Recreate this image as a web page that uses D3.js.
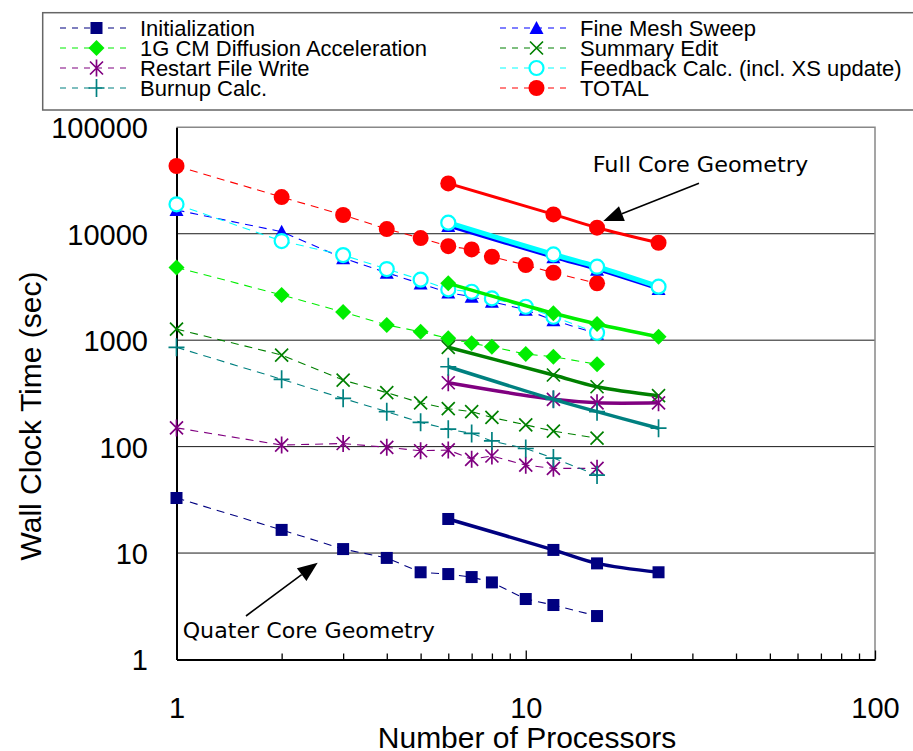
<!DOCTYPE html>
<html>
<head>
<meta charset="utf-8">
<script src="https://cdn.jsdelivr.net/npm/d3@7"></script>
<style>
  body { margin: 0; background: #fff; }
  svg { display: block; font-family: "Liberation Sans", Arial, sans-serif; }
</style>
</head>
<body>
<div id="chart"></div>
<script>
// processor counts
const procsQuarter = [1, 2, 3, 4, 5, 6, 7, 8, 10, 12, 16];
const procsFull = [6, 12, 16, 24];

// wall clock time (sec), quarter core runs (dashed) and full core runs (solid)
const initQuarter = [32.9, 16.5, 10.9, 9.0, 6.6, 6.35, 5.95, 5.3, 3.7, 3.25, 2.56];
const initFull = [20.9, 10.7, 8.0, 6.6];
const sweepQuarter = [16700, 10450, 5900, 4300, 3400, 2800, 2560, 2300, 1930, 1540, 1150];
const sweepFull = [11800, 6000, 4600, 3020];
const cmfdQuarter = [4830, 2660, 1840, 1390, 1200, 1040, 934, 868, 741, 699, 593];
const cmfdFull = [3420, 1790, 1420, 1077];
const editQuarter = [1270, 725, 422, 321, 258, 227, 213, 188, 160, 140, 120];
const editFull = [857, 471, 365, 301];
const restartQuarter = [150, 103.5, 107, 98.5, 91.5, 93, 76, 81.6, 67, 62.5, 62.5];
const restartFull = [398, 278, 258, 258];
const feedbackQuarter = [18900, 8540, 6300, 4660, 3700, 3000, 2850, 2470, 2060, 1660, 1175];
const feedbackFull = [12700, 6400, 4900, 3180];
const burnupQuarter = [857, 429, 284, 213, 169, 146, 133, 113, 96, 78, 54];
const burnupFull = [563, 278, 213, 149];
const totalQuarter = [43300, 22100, 15000, 11060, 9100, 7640, 7130, 6080, 5080, 4300, 3420];
const totalFull = [29700, 15200, 11400, 8230];

const xTickLabels = [1, 10, 100];
const yTickLabels = [1, 10, 100, 1000, 10000, 100000];

// legend / drawing order
const series = [
  {name: 'Initialization', color: '#000080', marker: 'square', quarter: initQuarter, full: initFull, width: 3.5},
  {name: 'Fine Mesh Sweep', color: '#0000ff', marker: 'triangle', quarter: sweepQuarter, full: sweepFull, width: 3},
  {name: '1G CM Diffusion Acceleration', color: '#00ee00', marker: 'diamond', quarter: cmfdQuarter, full: cmfdFull, width: 3.5},
  {name: 'Summary Edit', color: '#008000', marker: 'xmark', quarter: editQuarter, full: editFull, width: 3.5},
  {name: 'Restart File Write', color: '#800080', marker: 'star', quarter: restartQuarter, full: restartFull, width: 3.5},
  {name: 'Feedback Calc. (incl. XS update)', color: '#00ffff', marker: 'ocircle', quarter: feedbackQuarter, full: feedbackFull, width: 5},
  {name: 'Burnup Calc.', color: '#008080', marker: 'plus', quarter: burnupQuarter, full: burnupFull, width: 3.5},
  {name: 'TOTAL', color: '#ff0000', marker: 'circle', quarter: totalQuarter, full: totalFull, width: 3}
];

const W = 913;
const H = 751;
const plot = {left: 176.5, right: 875, top: 127.3, bottom: 659.5};

const svg = d3.select('#chart')
  .append('svg')
  .attr('width', W)
  .attr('height', H);

const x = d3.scaleLog().domain([1, 100]).range([plot.left, plot.right]);
const y = d3.scaleLog().domain([1, 100000]).range([plot.bottom, plot.top]);

function drawMarker(g, type, color) {
  switch (type) {
  case 'square':
    g.append('rect').attr('x', -6).attr('y', -6).attr('width', 12).attr('height', 12).attr('fill', color);
    break;
  case 'diamond':
    g.append('path').attr('d', 'M0,-8L8,0L0,8L-8,0Z').attr('fill', color);
    break;
  case 'triangle':
    g.append('path').attr('d', 'M0,-7L7,6L-7,6Z').attr('fill', color);
    break;
  case 'xmark':
    g.append('path').attr('d', 'M-6.5,-6.5L6.5,6.5M-6.5,6.5L6.5,-6.5')
      .attr('stroke', color).attr('stroke-width', 1.7).attr('fill', 'none');
    break;
  case 'star':
    g.append('path').attr('d', 'M-6.5,-6.5L6.5,6.5M-6.5,6.5L6.5,-6.5M0,-8.5L0,8.5')
      .attr('stroke', color).attr('stroke-width', 1.7).attr('fill', 'none');
    break;
  case 'plus':
    g.append('path').attr('d', 'M-8,0L8,0M0,-9L0,9')
      .attr('stroke', color).attr('stroke-width', 1.7).attr('fill', 'none');
    break;
  case 'ocircle':
    g.append('circle').attr('r', 7).attr('fill', '#fff').attr('stroke', color).attr('stroke-width', 2.2);
    break;
  default:
    g.append('circle').attr('r', 8).attr('fill', color);
  }
}

// grid and frame
function drawGrid() {
  const grid = svg.append('g').attr('class', 'grid');
  grid.selectAll('line')
    .data(yTickLabels.filter((d)=> d > 1 && d < 100000))
    .join('line')
    .attr('x1', plot.left).attr('x2', plot.right)
    .attr('y1', (d)=> y(d)).attr('y2', (d)=> y(d))
    .attr('stroke', '#1a1a1a')
    .attr('stroke-width', 1);

  grid.append('path')
    .attr('d', `M${plot.left},${plot.top}H${plot.right}V${plot.bottom}`)
    .attr('fill', 'none')
    .attr('stroke', '#888')
    .attr('stroke-width', 1.5);
}

function drawAxes() {
  const xAxis = d3.axisBottom(x)
    .tickValues(x.ticks())
    .tickSizeInner(-6)
    .tickSizeOuter(0)
    .tickFormat((d)=> (xTickLabels.includes(d) ? d : ''));

  const gx = svg.append('g')
    .attr('transform', `translate(0,${plot.bottom})`)
    .call(xAxis);
  gx.select('.domain').attr('stroke', '#000').attr('stroke-width', 2);
  gx.selectAll('.tick line')
    .attr('stroke', '#000')
    .attr('stroke-width', 1.3)
    .attr('y2', (d)=> (xTickLabels.includes(d) ? -9 : -6));
  gx.selectAll('.tick text')
    .attr('y', 58)
    .attr('dy', 0)
    .attr('fill', '#000')
    .style('font-size', '29px')
    .style('font-family', '"Liberation Sans", Arial, sans-serif');

  const yAxis = d3.axisLeft(y)
    .tickValues(yTickLabels)
    .tickSize(0)
    .tickPadding(plot.left - 148)
    .tickFormat(d3.format('d'));

  const gy = svg.append('g')
    .attr('transform', `translate(${plot.left},0)`)
    .call(yAxis);
  gy.select('.domain').attr('stroke', '#000').attr('stroke-width', 2);
  gy.selectAll('.tick text')
    .attr('dy', '0.36em')
    .attr('fill', '#000')
    .style('font-size', '29px')
    .style('font-family', '"Liberation Sans", Arial, sans-serif');

  svg.append('text')
    .attr('x', 527)
    .attr('y', 748)
    .attr('text-anchor', 'middle')
    .style('font-size', '30px')
    .text('Number of Processors');

  svg.append('text')
    .attr('transform', 'translate(41,416) rotate(-90)')
    .attr('text-anchor', 'middle')
    .style('font-size', '30px')
    .text('Wall Clock Time (sec)');
}

function drawSeries(s, key) {
  const procs = key === 'quarter' ? procsQuarter : procsFull;
  const pts = procs.map((p, i)=> ({p, v: s[key][i]}));
  const g = svg.append('g').attr('class', `series ${key}`);

  const line = d3.line()
    .x((d)=> x(d.p))
    .y((d)=> y(d.v))
    .curve(key === 'quarter' ? d3.curveLinear : d3.curveCatmullRom.alpha(0.5));

  g.append('path')
    .datum(pts)
    .attr('d', line)
    .attr('fill', 'none')
    .attr('stroke', s.color)
    .attr('stroke-width', key === 'quarter' ? 1.1 : s.width)
    .attr('stroke-dasharray', key === 'quarter' ? '8,6' : null);

  g.selectAll('g.pt')
    .data(pts)
    .join('g')
    .attr('class', 'pt')
    .attr('transform', (d)=> `translate(${x(d.p)},${y(d.v)})`)
    .each(function() {
      drawMarker(d3.select(this), s.marker, s.color);
    });
}

function drawLegend() {
  const lg = svg.append('g').attr('class', 'legend');
  lg.append('rect')
    .attr('x', 42.7).attr('y', 12.7)
    .attr('width', 900).attr('height', 97.3)
    .attr('fill', '#fff')
    .attr('stroke', '#666')
    .attr('stroke-width', 1.5);

  const items = lg.selectAll('g.item')
    .data(series)
    .join('g')
    .attr('class', 'item')
    .attr('transform', (d, i)=> `translate(${i % 2 ? 500 : 60},${35.5 + Math.floor(i / 2) * 20})`);

  items.append('line')
    .attr('x1', 0).attr('x2', 70)
    .attr('y1', -7.5).attr('y2', -7.5)
    .attr('stroke', (d)=> d.color)
    .attr('stroke-width', 1.1)
    .attr('stroke-dasharray', '6,6');

  items.each(function(d) {
    const m = d3.select(this).append('g').attr('transform', 'translate(36.5,-7.5)');
    drawMarker(m, d.marker, d.color);
  });

  items.append('text')
    .attr('x', 80)
    .attr('y', 0)
    .style('font-size', '22px')
    .text((d)=> d.name);
}

function drawArrow(from, to) {
  const ang = Math.atan2(to[1] - from[1], to[0] - from[0]);
  const headLen = 20;
  const headHalf = 8;
  const bx = to[0] - headLen * Math.cos(ang);
  const by = to[1] - headLen * Math.sin(ang);
  svg.append('line')
    .attr('x1', from[0]).attr('y1', from[1])
    .attr('x2', bx).attr('y2', by)
    .attr('stroke', '#000')
    .attr('stroke-width', 1.6);
  const nx = -Math.sin(ang) * headHalf;
  const ny = Math.cos(ang) * headHalf;
  svg.append('path')
    .attr('d', `M${to[0]},${to[1]}L${bx + nx},${by + ny}L${bx - nx},${by - ny}Z`)
    .attr('fill', '#000');
}

function drawNotes() {
  svg.append('text')
    .attr('x', 592.7).attr('y', 172.3)
    .attr('textLength', 215.6)
    .attr('lengthAdjust', 'spacingAndGlyphs')
    .style('font-family', '"DejaVu Sans", sans-serif')
    .style('font-size', '21px')
    .text('Full Core Geometry');
  drawArrow([699, 183.3], [603.3, 221]);

  svg.append('text')
    .attr('x', 182.7).attr('y', 638.3)
    .attr('textLength', 252.3)
    .attr('lengthAdjust', 'spacingAndGlyphs')
    .style('font-family', '"DejaVu Sans", sans-serif')
    .style('font-size', '21px')
    .text('Quater Core Geometry');
  drawArrow([246, 616], [317.7, 562.7]);
}

drawGrid();
drawAxes();
series.forEach((s)=> drawSeries(s, 'quarter'));
series.forEach((s)=> drawSeries(s, 'full'));
drawNotes();
drawLegend();
</script>
</body>
</html>
